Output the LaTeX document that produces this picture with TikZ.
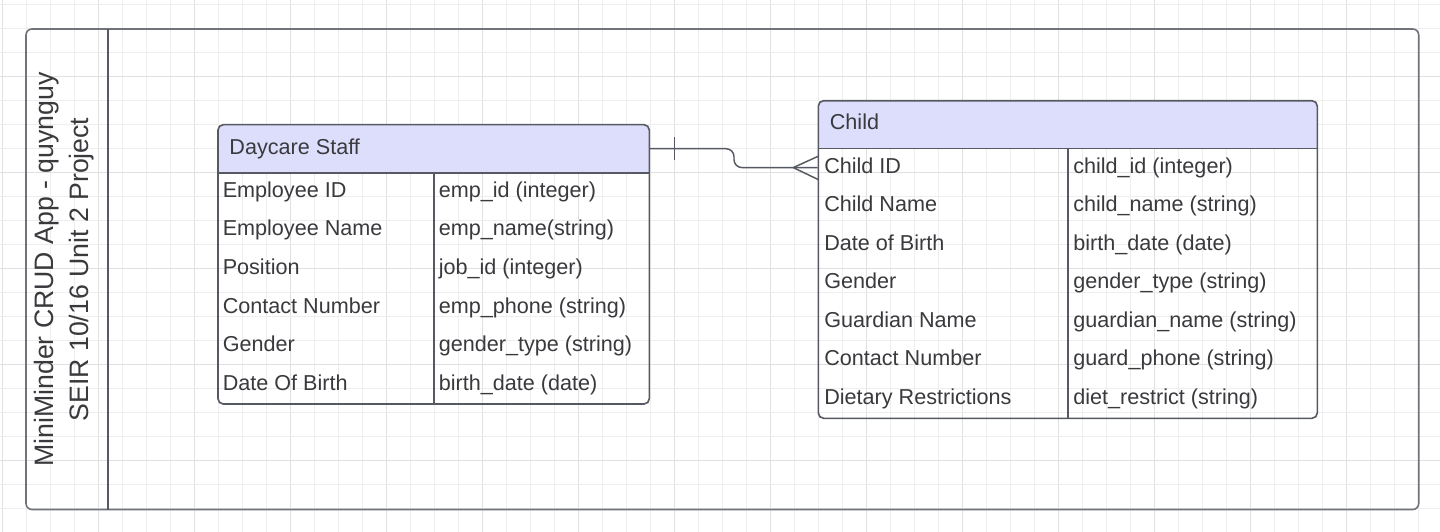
\documentclass[tikz,border=0pt]{standalone}
\usepackage{fontspec}
\setmainfont{Liberation Sans}
\usepackage{tikz}

\definecolor{gridminor}{RGB}{238,238,238}
\definecolor{gridmajor}{RGB}{224,224,224}
\definecolor{framegray}{RGB}{112,115,122}
\definecolor{linegray}{RGB}{86,89,98}
\definecolor{textgray}{RGB}{58,58,62}
\definecolor{headfill}{RGB}{221,222,252}

\tikzset{
  cell/.style={anchor=west, inner sep=0pt, text=textgray, font=\fontsize{16.2}{19}\selectfont, text height=11.6pt, text depth=3.5pt},
  conn/.style={draw=linegray, line width=1.1pt},
  tablebox/.style={draw=linegray, line width=1.2pt, rounded corners=4pt, inner sep=0pt},
  rule/.style={draw=linegray, line width=1.2pt},
}

\begin{document}
\begin{tikzpicture}[x=0.75pt,y=0.75pt,yscale=-1,xscale=1]
        \useasboundingbox (0,0) rectangle (1440,532);
        \fill[white] (0,0) rectangle (1440,532);

        %Grid
        \foreach \k in {0,...,59} {
            \pgfmathsetmacro{\gx}{2.7+24*\k}
            \pgfmathtruncatemacro{\gm}{mod(\k,4)}
            \ifnum\gm=0 \def\gc{gridmajor}\else\def\gc{gridminor}\fi
            \draw[\gc, line width=0.75pt] (\gx,0) -- (\gx,532);
        }
        \foreach \k in {0,...,22} {
            \pgfmathsetmacro{\gy}{4.3+24*\k}
            \pgfmathtruncatemacro{\gm}{mod(\k,4)}
            \ifnum\gm=3 \def\gc{gridmajor}\else\def\gc{gridminor}\fi
            \draw[\gc, line width=0.75pt] (0,\gy) -- (1440,\gy);
        }

        %Shape: Rectangle (outer frame)
        \draw[framegray, line width=1.2pt, rounded corners=4.5pt] (26,29) rectangle (1418.7,509.5);
        %Straight Lines
        \draw[linegray, line width=1.2pt] (107.7,29) -- (107.7,509.5);
        % Text Node
        \node[rotate=90, align=center, text=textgray, font=\fontsize{20}{26.25}\selectfont, inner sep=0pt] (title) at (64.5,269.5)
            {MiniMinder CRUD App - quynguy\\SEIR 10/16 Unit 2 Project};

        %Shape: Rectangle (Daycare Staff)
        \fill[headfill, rounded corners=4pt] (218,124.7) rectangle (649.3,172.7);
        \fill[headfill] (218,150) rectangle (649.3,172.7);
        \node[tablebox, minimum width=323.5pt, minimum height=209.5pt] (staff) at (433.65,264.35) {};
        \draw[rule] (218,172.7) -- (649.3,172.7);
        \draw[rule] (434,172.7) -- (434,404);

        % Text Node
        \node[cell] (staffhd) at (229.2,148.7) {Daycare Staff};
        \node[cell] (sk1) at (222.5,192.0) {Employee ID};
        \node[cell] (sk2) at (222.5,230.5) {Employee Name};
        \node[cell] (sk3) at (222.5,269.1) {Position};
        \node[cell] (sk4) at (222.5,307.6) {Contact Number};
        \node[cell] (sk5) at (222.5,346.2) {Gender};
        \node[cell] (sk6) at (222.5,384.7) {Date Of Birth};
        \node[cell] (sv1) at (438.5,192.0) {emp\_id (integer)};
        \node[cell] (sv2) at (438.5,230.5) {emp\_name(string)};
        \node[cell] (sv3) at (438.5,269.1) {job\_id (integer)};
        \node[cell] (sv4) at (438.5,307.6) {emp\_phone (string)};
        \node[cell] (sv5) at (438.5,346.2) {gender\_type (string)};
        \node[cell] (sv6) at (438.5,384.7) {birth\_date (date)};

        %Shape: Rectangle (Child)
        \fill[headfill, rounded corners=4pt] (818.3,100.7) rectangle (1317.3,148.3);
        \fill[headfill] (818.3,125) rectangle (1317.3,148.3);
        \node[tablebox, minimum width=374.25pt, minimum height=238.2pt] (child) at (1067.8,259.5) {};
        \draw[rule] (818.3,148.3) -- (1317.3,148.3);
        \draw[rule] (1067.7,148.3) -- (1067.7,418.3);

        % Text Node
        \node[cell] (childhd) at (829.6,124.5) {Child};
        \node[cell] (ck1) at (824,167.6) {Child ID};
        \node[cell] (ck2) at (824,206.2) {Child Name};
        \node[cell] (ck3) at (824,244.7) {Date of Birth};
        \node[cell] (ck4) at (824,283.3) {Gender};
        \node[cell] (ck5) at (824,321.9) {Guardian Name};
        \node[cell] (ck6) at (824,360.4) {Contact Number};
        \node[cell] (ck7) at (824,399.0) {Dietary Restrictions};
        \node[cell] (cv1) at (1073,167.6) {child\_id (integer)};
        \node[cell] (cv2) at (1073,206.2) {child\_name (string)};
        \node[cell] (cv3) at (1073,244.7) {birth\_date (date)};
        \node[cell] (cv4) at (1073,283.3) {gender\_type (string)};
        \node[cell] (cv5) at (1073,321.9) {guardian\_name (string)};
        \node[cell] (cv6) at (1073,360.4) {guard\_phone (string)};
        \node[cell] (cv7) at (1073,399.0) {diet\_restrict (string)};

        %Connector: one staff to many children
        \draw[conn, rounded corners=6pt] (staff.east |- staffhd) -- (734,148.7) -- (734,167.6) -- (child.west |- ck1);
        \draw[conn] (674.3,137) -- (674.3,160.4);
        \coordinate (foot) at (793.3,167.6);
        \draw[conn] (foot) -- (818.3,156.2) (foot) -- (818.3,179.6);

\end{tikzpicture}
\end{document}
